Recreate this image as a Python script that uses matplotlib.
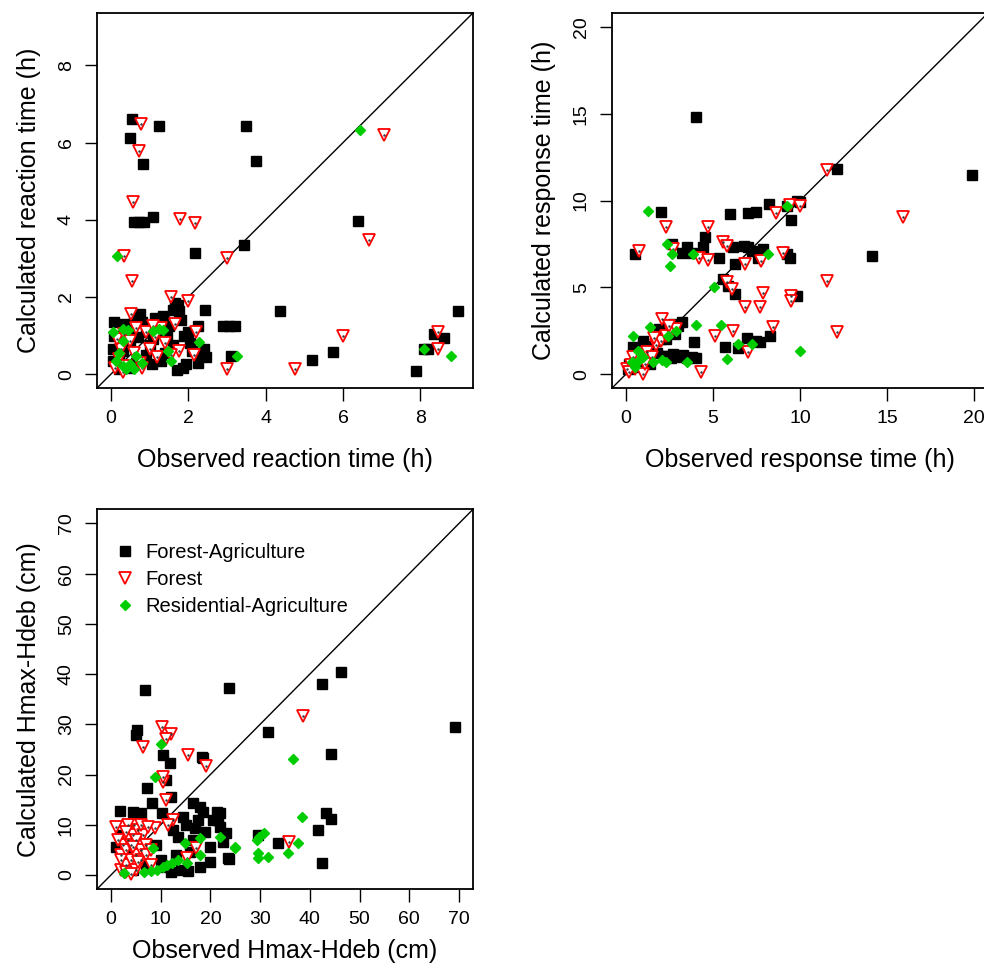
import matplotlib
matplotlib.use("Agg")
import matplotlib.pyplot as plt
from matplotlib.lines import Line2D

plt.rcParams['font.family'] = ['Liberation Sans', 'DejaVu Sans']

# Panel 1 : reaction time (h)
fa_react_obs = [0.55, 0.5, 1.25, 3.48, 0.83, 3.75, 0.6, 0.72, 0.85, 1.1, 2.17, 3.45, 6.38, 4.38, 5.2,
                5.73, 7.9, 8.1, 8.2, 8.35, 8.6, 8.98, 2.9, 3.05, 3.2, 3.1, 2.43, 1.73, 1.75, 1.86, 2.4,
                2.45, 2.25, 0.08, 0.08, 0.05, 0.05, 0.2, 0.3, 0.25, 0.45, 0.6, 0.75, 0.8, 0.9, 1.0,
                1.1, 1.2, 1.3, 1.35, 1.5, 1.6, 1.65, 1.8, 1.9, 1.6, 1.4, 1.3, 1.05, 0.9, 0.65, 0.45,
                0.2, 2.05, 2.1, 2.3, 1.95, 1.7, 1.0, 0.5, 0.35, 1.15, 1.45, 0.7, 2.0, 2.25]
fa_react_calc = [6.62, 6.13, 6.42, 6.42, 5.45, 5.53, 3.95, 3.95, 3.95, 4.08, 3.13, 3.35, 3.96, 1.63, 0.36,
                 0.57, 0.08, 0.65, 0.65, 1.03, 0.93, 1.63, 1.25, 1.25, 1.25, 0.48, 1.66, 1.8, 1.63, 0.15,
                 0.65, 0.45, 0.3, 1.35, 1.0, 0.65, 0.35, 0.5, 0.6, 0.9, 1.15, 1.5, 1.55, 1.35, 1.1,
                 1.2, 0.9, 1.1, 1.4, 1.5, 1.25, 1.65, 1.85, 1.4, 1.0, 0.75, 0.55, 0.35, 0.25, 0.5,
                 0.3, 0.15, 0.12, 0.8, 0.6, 0.5, 0.25, 0.1, 0.75, 0.8, 1.3, 1.45, 0.95, 0.95, 1.1, 1.25]
fo_react_obs = [0.77, 0.73, 0.57, 1.78, 2.17, 0.35, 0.55, 3.0, 7.05, 6.68, 6.0, 4.75, 8.45, 8.45, 3.0,
                1.55, 2.0, 0.52, 2.2, 2.15, 0.1, 0.2, 0.25, 0.15, 0.35, 0.5, 0.6, 0.75, 0.9, 1.0, 1.2,
                1.3, 1.4, 0.8, 0.4, 1.1, 1.65, 1.75, 0.3, 0.65, 1.55, 1.15]
fo_react_calc = [6.48, 5.78, 4.46, 4.02, 3.93, 3.05, 2.42, 3.0, 6.2, 3.48, 1.0, 0.12, 1.08, 0.65, 0.12,
                 2.0, 1.9, 1.55, 1.1, 0.5, 0.15, 0.4, 0.65, 0.9, 1.05, 0.85, 0.55, 0.3, 1.1, 0.65, 0.45,
                 1.2, 0.8, 0.15, 0.2, 1.25, 1.3, 0.6, 0.05, 1.2, 0.5, 0.95]
ra_react_obs = [0.15, 6.43, 8.1, 8.8, 3.25, 2.27, 0.05, 0.3, 0.45, 0.3, 0.13, 0.3, 0.4, 0.5, 0.65, 0.6,
                1.08, 1.24, 1.34, 1.47, 1.55, 0.2, 0.8]
ra_react_calc = [3.05, 6.33, 0.65, 0.47, 0.47, 0.83, 1.09, 1.17, 1.15, 0.86, 0.34, 0.2, 0.12, 0.25, 0.47,
                 0.13, 1.11, 1.17, 1.14, 0.6, 0.34, 0.55, 0.3]

# Panel 2 : response time (h)
fa_resp_obs = [4.02, 19.9, 14.15, 12.1, 8.2, 9.25, 9.8, 10.0, 9.5, 7.0, 7.5, 5.98, 2.0, 4.54, 6.15, 2.64,
               0.52, 3.2, 3.5, 3.8, 4.4, 5.35, 6.8, 7.0, 7.25, 7.9, 6.26, 7.6, 9.25, 9.4, 5.57, 5.86,
               6.26, 9.83, 8.28, 6.95, 7.5, 7.7, 6.44, 5.7, 3.9, 2.7, 3.2, 2.35, 0.4, 0.2, 0.5, 0.8,
               1.0, 1.2, 1.5, 1.7, 2.0, 2.2, 2.5, 2.7, 3.0, 3.2, 2.8, 2.3, 1.8, 1.4, 2.6, 3.5, 3.8,
               0.1, 0.6, 4.0, 1.9, 2.4, 1.0, 2.2, 2.9, 3.3]
fa_resp_calc = [14.8, 11.45, 6.8, 11.8, 9.8, 9.7, 9.95, 9.9, 8.9, 9.3, 9.35, 9.25, 9.35, 7.87, 7.3, 7.47,
                6.9, 7.0, 7.3, 7.0, 7.3, 6.67, 7.4, 7.3, 7.1, 7.2, 6.32, 6.67, 6.9, 6.7, 5.46, 5.06,
                4.6, 4.48, 2.2, 2.1, 1.9, 1.84, 1.5, 1.55, 1.84, 1.15, 1.0, 1.03, 1.55, 0.6, 0.9, 1.2,
                0.7, 1.0, 1.6, 1.9, 2.0, 2.4, 2.6, 2.9, 2.8, 3.0, 2.3, 2.0, 1.2, 0.6, 0.9, 0.95, 1.0,
                0.3, 0.4, 0.95, 2.6, 2.8, 1.9, 1.05, 1.05, 1.1]
fo_resp_obs = [11.55, 9.4, 10.0, 8.6, 2.3, 4.7, 5.57, 5.8, 0.75, 2.7, 4.2, 4.7, 6.84, 7.76, 9.0, 11.55,
               15.9, 5.8, 6.1, 7.9, 9.5, 9.5, 6.84, 7.7, 12.1, 8.45, 7.0, 6.15, 5.1, 4.3, 2.07, 0.06,
               1.0, 0.3, 0.5, 0.7, 0.9, 1.2, 1.5, 1.7, 2.0, 2.3, 2.6, 2.9, 0.2, 1.1, 0.4, 1.6, 2.5]
fo_resp_calc = [11.78, 9.77, 9.7, 9.3, 8.45, 8.45, 7.6, 7.36, 7.07, 7.18, 6.67, 6.55, 6.32, 6.5, 7.0, 5.34,
                9.06, 5.3, 4.9, 4.7, 4.5, 4.2, 3.85, 3.85, 2.41, 2.7, 1.26, 2.47, 2.2, 0.1, 3.2, 0.29,
                0.0, 0.5, 0.3, 0.8, 1.1, 1.3, 1.0, 1.7, 1.9, 2.2, 2.4, 2.6, 0.1, 0.6, 1.0, 2.1, 2.8]
ra_resp_obs = [9.27, 1.28, 2.36, 2.64, 3.85, 2.53, 8.16, 5.06, 10.0, 6.44, 7.24, 5.8, 5.46, 4.0, 3.5,
               2.07, 1.55, 1.38, 0.4, 0.7, 0.35, 0.7, 2.3, 1.0, 0.5, 2.9, 2.4]
ra_resp_calc = [9.67, 9.37, 7.47, 6.9, 6.9, 6.2, 6.9, 5.0, 1.33, 1.72, 1.72, 0.86, 2.82, 2.82, 0.69,
                0.8, 0.69, 2.7, 2.2, 1.33, 0.69, 0.75, 0.7, 1.0, 0.4, 2.5, 2.2]

# Panel 3 : Hmax-Hdeb (cm)
fa_h_obs = [46.3, 42.5, 23.7, 31.6, 69.2, 44.3, 18.3, 43.3, 44.3, 41.6, 42.5, 29.6, 33.6, 23.7, 21.9,
            21.5, 21.9, 23.1, 10.5, 11.9, 18.5, 7.2, 8.2, 1.8, 4.4, 6.0, 10.3, 16.5, 17.9, 18.5, 21.3,
            16.9, 23.5, 6.8, 5.2, 5.0, 11.0, 12.0, 12.5, 13.5, 14.5, 15.0, 13.0, 16.0, 18.0, 20.0,
            19.0, 20.5, 11.0, 14.0, 16.5, 17.5, 20.0, 22.5, 9.0, 10.0, 3.0, 4.5, 2.0, 7.0, 1.0,
            12.0, 15.5]
fa_h_calc = [40.4, 38.0, 37.2, 28.4, 29.4, 24.1, 23.5, 12.3, 11.1, 8.9, 2.4, 7.9, 6.4, 3.2, 12.3,
             10.9, 9.5, 8.3, 23.9, 22.3, 23.2, 17.3, 14.3, 12.7, 12.5, 12.3, 12.3, 14.3, 13.5, 12.5, 12.5,
             9.3, 3.4, 36.8, 28.8, 27.8, 19.0, 15.5, 9.0, 7.5, 11.5, 10.0, 4.0, 4.5, 1.5, 2.5,
             8.5, 11.0, 1.5, 1.0, 7.0, 11.0, 5.5, 6.5, 6.0, 3.0, 4.0, 1.0, 8.0, 2.0, 5.5,
             0.5, 0.8]
fo_h_obs = [6.4, 15.5, 19.1, 10.5, 11.1, 38.6, 12.5, 11.5, 1.0, 4.6, 8.9, 17.1, 15.3, 35.8, 10.3, 12.0,
            11.0, 10.5, 2, 3, 4, 5, 6, 2.5, 3.5, 4.5, 5.5, 6.5, 7, 2, 3, 4, 5, 6, 7, 8, 3, 5, 4, 2,
            1.5, 6, 7.5, 3.5, 8, 5.5, 4.5, 3]
fo_h_calc = [25.4, 23.9, 21.7, 18.5, 14.9, 31.6, 10.9, 9.9, 9.5, 9.9, 9.3, 5.4, 3.4, 6.6, 29.5, 28.0,
             27.0, 19.5, 1, 2, 3, 4, 5, 6, 7, 8, 9, 8, 6, 4, 5, 6, 7, 3, 4, 5, 0.5, 1, 0.2, 3,
             7, 10, 9.5, 10, 2, 2.5, 5.5, 8.5]
ra_h_obs = [10.1, 8.9, 36.6, 38.4, 29.8, 30.8, 29.4, 37.6, 35.6, 29.6, 29.6, 31.6, 25.0, 21.9, 17.9,
            24.9, 14.9, 15.3, 17.9, 8.5, 2.6, 6.6, 9.3, 11.3, 12.3, 13.5, 10.5, 8.0]
ra_h_calc = [26.0, 19.5, 23.0, 11.5, 7.6, 8.3, 7.0, 6.4, 4.4, 4.4, 3.4, 3.6, 5.4, 7.6, 7.4,
             5.6, 6.4, 2.4, 4.0, 5.4, 0.4, 0.6, 1.0, 2.0, 2.4, 3.0, 1.5, 0.8]

green = '#00CD00'


def panel(ax, fa, fo, ra, lim, ticks, xlabel, ylabel, xpad=15):
    ax.axline((0, 0), slope=1, color='black', lw=1.0, zorder=1)
    ax.plot(fa[0], fa[1], 's', color='black', ms=6.5, ls='none', zorder=2)
    ax.plot(fo[0], fo[1], 'v', mfc='white', mec='red', mew=1.3, ms=9, ls='none', zorder=3)
    ax.plot(fo[0], fo[1], '.', color='#333333', ms=1.5, ls='none', zorder=3)
    ax.plot(ra[0], ra[1], 'D', color=green, ms=5.5, ls='none', zorder=4)
    ax.set_xlim(lim)
    ax.set_ylim(lim)
    ax.set_xticks(ticks)
    ax.set_yticks(ticks)
    ax.tick_params(direction='out', length=9, width=1.0, labelsize=14, pad=7)
    for lbl in ax.get_yticklabels():
        lbl.set_rotation(90)
        lbl.set_va('center')
    for s in ax.spines.values():
        s.set_linewidth(1.3)
    ax.set_xlabel(xlabel, fontsize=18, labelpad=xpad)
    ax.set_ylabel(ylabel, fontsize=18, labelpad=12)


fig = plt.figure(figsize=(9.84, 9.71), dpi=100)
ax1 = fig.add_axes([0.0986, 0.6004, 0.382, 0.3862])
ax2 = fig.add_axes([0.622, 0.6004, 0.382, 0.3862])
ax3 = fig.add_axes([0.0986, 0.0844, 0.382, 0.391])

panel(ax1, (fa_react_obs, fa_react_calc), (fo_react_obs, fo_react_calc), (ra_react_obs, ra_react_calc),
      (-0.36, 9.36), [0, 2, 4, 6, 8], 'Observed reaction time (h)', 'Calculated reaction time (h)')
panel(ax2, (fa_resp_obs, fa_resp_calc), (fo_resp_obs, fo_resp_calc), (ra_resp_obs, ra_resp_calc),
      (-0.8, 20.8), [0, 5, 10, 15, 20], 'Observed response time (h)', 'Calculated response time (h)')
panel(ax3, (fa_h_obs, fa_h_calc), (fo_h_obs, fo_h_calc), (ra_h_obs, ra_h_calc),
      (-2.8, 72.8), [0, 10, 20, 30, 40, 50, 60, 70], 'Observed Hmax-Hdeb (cm)', 'Calculated Hmax-Hdeb (cm)',
      xpad=8)

handles = [Line2D([], [], marker='s', color='black', ms=6.5, ls='none'),
           Line2D([], [], marker='v', mfc='white', mec='red', mew=1.3, ms=9, ls='none'),
           Line2D([], [], marker='D', color=green, ms=5.5, ls='none')]
ax3.legend(handles, ['Forest-Agriculture', 'Forest', 'Residential-Agriculture'],
           loc='upper left', bbox_to_anchor=(0.0, 0.96), frameon=False, fontsize=14.5,
           handlelength=1.0, handletextpad=0.5, labelspacing=0.4)

fig.savefig('out.png', dpi=100)
